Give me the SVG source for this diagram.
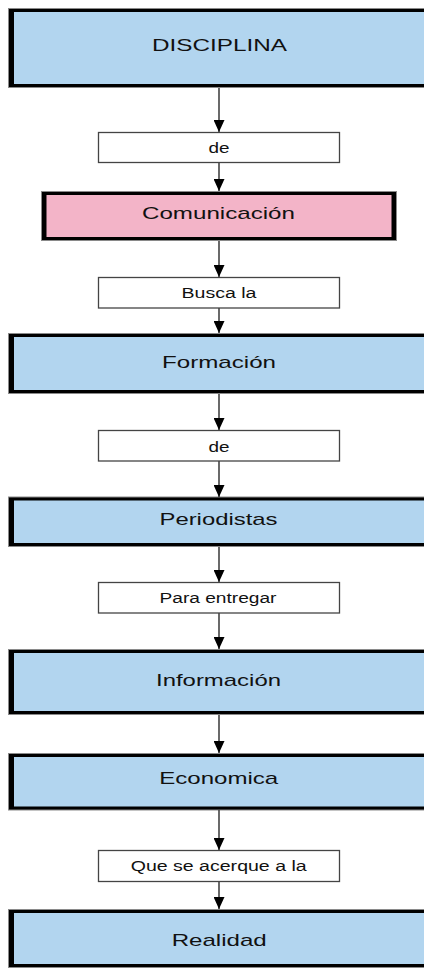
<svg xmlns="http://www.w3.org/2000/svg" width="424" height="970" viewBox="0 0 424 970">
<style>
.outer{fill:#000;stroke:#8a8a8a;stroke-width:1}
.blue{fill:#b2d5ef}
.pink{fill:#f3b4c8}
.small{fill:#fff;stroke:#444;stroke-width:1.3}
.big{font-family:"Liberation Sans",Arial,sans-serif;font-size:17px;fill:#111;text-anchor:middle}
.lbl{font-family:"Liberation Sans",Arial,sans-serif;font-size:14px;fill:#111;text-anchor:middle}
.conn line{stroke:#444;stroke-width:1.6}
</style>
<defs>
<marker id="arr" markerUnits="userSpaceOnUse" markerWidth="12" markerHeight="11" refX="12" refY="5.5" orient="auto">
<path d="M0,0 L12,5.5 L0,11 z" fill="#000"/>
</marker>
</defs>
<g id="n-disciplina">
<rect class="outer" x="8.5" y="8.5" width="430" height="79"/>
<rect class="blue" x="14" y="12" width="430" height="72"/>
<text class="big" x="219.5" y="51" textLength="135" lengthAdjust="spacingAndGlyphs" font-size="16">DISCIPLINA</text>
</g>
<g id="n-de1">
<rect class="small" x="98.5" y="132.5" width="241" height="30"/>
<text class="lbl" x="219" y="152.5" textLength="21" lengthAdjust="spacingAndGlyphs">de</text>
</g>
<g id="n-comunicacion">
<rect class="outer" x="41.5" y="191.5" width="355" height="49"/>
<rect class="pink" x="46.5" y="195" width="345" height="42"/>
<text class="big" x="218.5" y="219.3" textLength="153" lengthAdjust="spacingAndGlyphs">Comunicación</text>
</g>
<g id="n-busca">
<rect class="small" x="98.5" y="277.5" width="241" height="30.5"/>
<text class="lbl" x="219" y="297.7" textLength="75" lengthAdjust="spacingAndGlyphs">Busca la</text>
</g>
<g id="n-formacion">
<rect class="outer" x="8.5" y="333.5" width="430" height="60"/>
<rect class="blue" x="14" y="337" width="430" height="53"/>
<text class="big" x="219" y="368.3" textLength="114" lengthAdjust="spacingAndGlyphs">Formación</text>
</g>
<g id="n-de2">
<rect class="small" x="98.5" y="430.5" width="241" height="30.5"/>
<text class="lbl" x="219" y="451.5" textLength="21" lengthAdjust="spacingAndGlyphs">de</text>
</g>
<g id="n-periodistas">
<rect class="outer" x="8.5" y="497" width="430" height="49.5"/>
<rect class="blue" x="14" y="500.5" width="430" height="42.5"/>
<text class="big" x="218.5" y="525" textLength="118" lengthAdjust="spacingAndGlyphs">Periodistas</text>
</g>
<g id="n-para">
<rect class="small" x="98.5" y="582.5" width="241" height="30.5"/>
<text class="lbl" x="218" y="603.3" textLength="117" lengthAdjust="spacingAndGlyphs">Para entregar</text>
</g>
<g id="n-informacion">
<rect class="outer" x="8.5" y="649.5" width="430" height="65"/>
<rect class="blue" x="14" y="653" width="430" height="58"/>
<text class="big" x="218.5" y="686" textLength="125" lengthAdjust="spacingAndGlyphs">Información</text>
</g>
<g id="n-economica">
<rect class="outer" x="8.5" y="753.5" width="430" height="56.5"/>
<rect class="blue" x="14" y="757" width="430" height="49.5"/>
<text class="big" x="218.7" y="784.3" textLength="119" lengthAdjust="spacingAndGlyphs">Economica</text>
</g>
<g id="n-que">
<rect class="small" x="98.5" y="850.5" width="241" height="31"/>
<text class="lbl" x="218.7" y="870.7" textLength="176" lengthAdjust="spacingAndGlyphs">Que se acerque a la</text>
</g>
<g id="n-realidad">
<rect class="outer" x="8.5" y="909.5" width="430" height="58"/>
<rect class="blue" x="14" y="913" width="430" height="51"/>
<text class="big" x="219.2" y="945.7" textLength="95" lengthAdjust="spacingAndGlyphs">Realidad</text>
</g>
<g id="connectors" class="conn">
<line x1="219" y1="88" x2="219" y2="132" marker-end="url(#arr)"/>
<line x1="219" y1="163" x2="219" y2="191" marker-end="url(#arr)"/>
<line x1="219" y1="241" x2="219" y2="277" marker-end="url(#arr)"/>
<line x1="219" y1="308" x2="219" y2="333" marker-end="url(#arr)"/>
<line x1="219" y1="394" x2="219" y2="430" marker-end="url(#arr)"/>
<line x1="219" y1="461" x2="219" y2="497" marker-end="url(#arr)"/>
<line x1="219" y1="547" x2="219" y2="582" marker-end="url(#arr)"/>
<line x1="219" y1="613" x2="219" y2="649" marker-end="url(#arr)"/>
<line x1="219" y1="715" x2="219" y2="753" marker-end="url(#arr)"/>
<line x1="219" y1="810" x2="219" y2="850" marker-end="url(#arr)"/>
<line x1="219" y1="882" x2="219" y2="909" marker-end="url(#arr)"/>
</g>
</svg>
